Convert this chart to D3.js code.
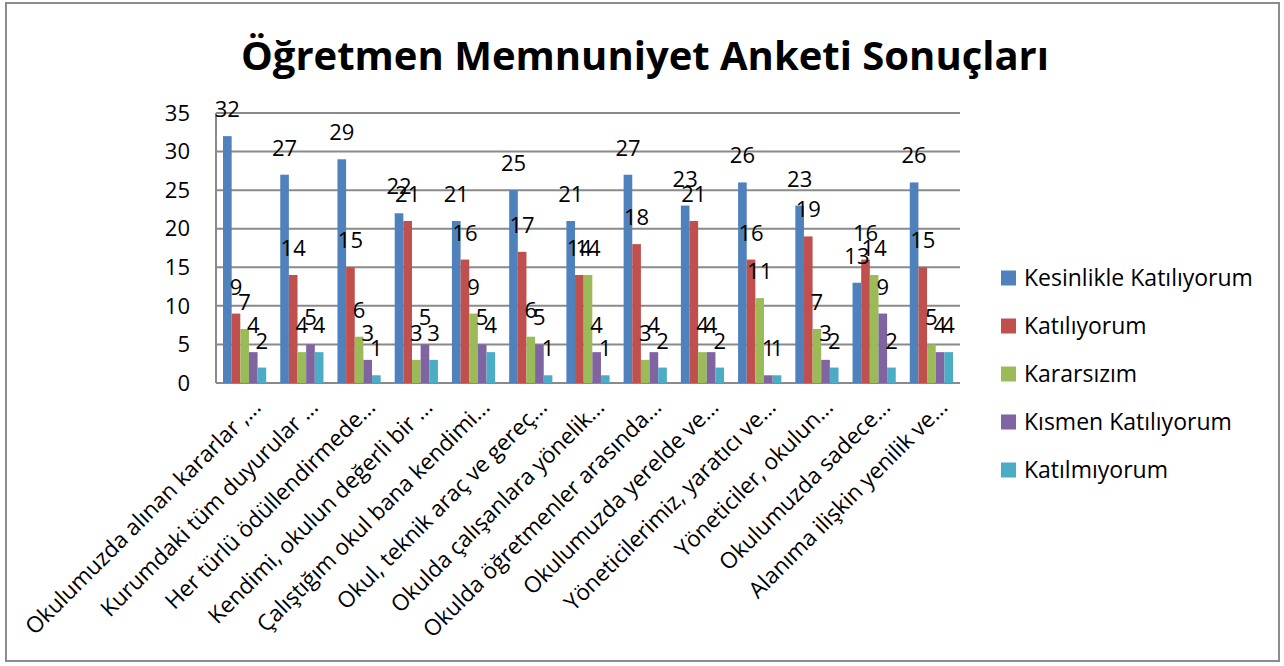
<!DOCTYPE html>
<html>
<head>
<meta charset="utf-8">
<script src="https://d3js.org/d3.v7.min.js"></script>
<style>
  body { margin: 0; background: #fff; }
  svg { display: block; font-family: "Open Sans", Lato, sans-serif; }
</style>
</head>
<body>
<div id="chart"></div>
<script>
// Survey categories (truncated like in the original)
const categories = [
  "Okulumuzda alınan kararlar ,...",
  "Kurumdaki tüm duyurular ...",
  "Her türlü ödüllendirmede...",
  "Kendimi, okulun değerli bir ...",
  "Çalıştığım okul bana kendimi...",
  "Okul, teknik araç ve gereç...",
  "Okulda çalışanlara yönelik...",
  "Okulda öğretmenler arasında...",
  "Okulumuzda yerelde ve...",
  "Yöneticilerimiz, yaratıcı ve...",
  "Yöneticiler, okulun...",
  "Okulumuzda sadece...",
  "Alanıma ilişkin yenilik ve..."
];

const seriesNames = [
  "Kesinlikle Katılıyorum",
  "Katılıyorum",
  "Kararsızım",
  "Kısmen Katılıyorum",
  "Katılmıyorum"
];

const kesinlikle = [32, 27, 29, 22, 21, 25, 21, 27, 23, 26, 23, 13, 26];
const katiliyorum = [9, 14, 15, 21, 16, 17, 14, 18, 21, 16, 19, 16, 15];
const kararsizim = [7, 4, 6, 3, 9, 6, 14, 3, 4, 11, 7, 14, 5];
const kismen = [4, 5, 3, 5, 5, 5, 4, 4, 4, 1, 3, 9, 4];
const katilmiyorum = [2, 4, 1, 3, 4, 1, 1, 2, 2, 1, 2, 2, 4];

const yTicks = [0, 5, 10, 15, 20, 25, 30, 35];
const colors = ["#4F81BD", "#C0504D", "#9BBB59", "#8064A2", "#4BACC6"];

const seriesValues = [kesinlikle, katiliyorum, kararsizim, kismen, katilmiyorum];

const W = 1284, H = 666;
const plot = { left: 216, right: 960, top: 113, bottom: 383 };

const svg = d3.select("#chart").append("svg")
  .attr("width", W)
  .attr("height", H);

// outer frame
svg.append("rect")
  .attr("x", 6).attr("y", 3)
  .attr("width", 1273).attr("height", 658)
  .attr("fill", "#fff")
  .attr("stroke", "#8c8c8c")
  .attr("stroke-width", 2);

// title
svg.append("text")
  .attr("x", 645).attr("y", 70)
  .attr("text-anchor", "middle")
  .attr("font-size", 40)
  .attr("font-weight", "bold")
  .attr("fill", "#000")
  .text("Öğretmen Memnuniyet Anketi Sonuçları");

const x0 = d3.scaleBand()
  .domain(categories)
  .range([plot.left, plot.right])
  .paddingInner(0.245)
  .paddingOuter(0.1225);

const x1 = d3.scaleBand()
  .domain(d3.range(seriesNames.length))
  .range([0, x0.bandwidth()]);

const y = d3.scaleLinear()
  .domain([0, 35])
  .range([plot.bottom, plot.top]);

// gridlines
svg.append("g")
  .selectAll("line")
  .data(yTicks)
  .join("line")
  .attr("x1", plot.left).attr("x2", plot.right)
  .attr("y1", d => y(d)).attr("y2", d => y(d))
  .attr("stroke", "#8a8a8a")
  .attr("stroke-width", 2);

// left axis line
svg.append("line")
  .attr("x1", plot.left).attr("x2", plot.left)
  .attr("y1", plot.top).attr("y2", plot.bottom)
  .attr("stroke", "#8a8a8a")
  .attr("stroke-width", 2);

// y tick labels
svg.append("g")
  .selectAll("text")
  .data(yTicks)
  .join("text")
  .attr("x", 190)
  .attr("y", d => y(d))
  .attr("dy", "0.35em")
  .attr("text-anchor", "end")
  .attr("font-size", 22)
  .text(d => d);

// bars
const groups = svg.append("g")
  .selectAll("g")
  .data(categories)
  .join("g")
  .attr("transform", d => `translate(${x0(d)},0)`);

groups.selectAll("rect")
  .data((d, i) => seriesValues.map((vals, s) => ({ s, v: vals[i] })))
  .join("rect")
  .attr("x", d => x1(d.s))
  .attr("width", x1.bandwidth())
  .attr("y", d => y(d.v))
  .attr("height", d => y(0) - y(d.v))
  .attr("fill", d => colors[d.s]);

// data labels
groups.selectAll("text")
  .data((d, i) => seriesValues.map((vals, s) => ({ s, v: vals[i] })))
  .join("text")
  .attr("x", d => x1(d.s) + x1.bandwidth() / 2)
  .attr("y", d => y(d.v) - 19)
  .attr("text-anchor", "middle")
  .attr("font-size", 22)
  .text(d => d.v);

// category labels
svg.append("g")
  .selectAll("text")
  .data(categories)
  .join("text")
  .attr("transform", d => `translate(${x0(d) + x0.bandwidth() / 2 + 12},${plot.bottom + 20}) rotate(-45)`)
  .attr("text-anchor", "end")
  .attr("dy", "0.35em")
  .attr("font-size", 22.5)
  .text(d => d);

// legend
const legend = svg.append("g")
  .selectAll("g")
  .data(seriesNames)
  .join("g")
  .attr("transform", (d, i) => `translate(1001,${278 + i * 48})`);

legend.append("rect")
  .attr("x", 0).attr("y", -7.5)
  .attr("width", 15).attr("height", 15)
  .attr("fill", (d, i) => colors[i]);

legend.append("text")
  .attr("x", 23)
  .attr("dy", "0.35em")
  .attr("font-size", 23)
  .text(d => d);
</script>
</body>
</html>
